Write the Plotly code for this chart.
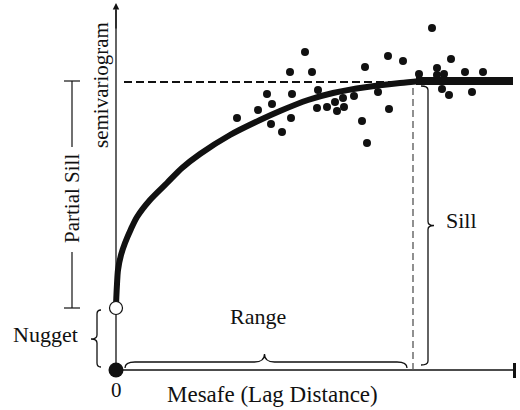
import plotly.graph_objects as go

# ---- data (lag distance units, semivariance units) ----
nugget = 62
sill = 289
range_lag = 297
x_axis_end = 399

curve_lag = [0, 0.3, 1, 2, 5, 9, 15, 21, 34, 51, 66, 84, 114, 144, 164, 192, 217, 251, 284, 304]
curve_gamma = [62, 72, 86, 100, 115, 127, 141, 153, 170, 187, 202, 216, 235, 250, 259, 270, 277, 283, 287, 289]

flat_lag = [300, 397]
flat_gamma = [289, 289]

obs_lag = [121, 142, 151, 156, 155, 166, 174, 176, 175, 189, 196, 202, 201, 211, 219, 221,
           227, 228, 238, 246, 249, 251, 262, 272, 273, 287, 303, 316, 321, 321, 328, 326,
           333, 335, 349, 356, 367]
obs_gamma = [252, 260, 276, 266, 246, 238, 298, 276, 252, 318, 298, 280, 262, 263, 268, 259,
             272, 263, 274, 249, 303, 227, 278, 314, 261, 309, 296, 342, 302, 295, 296, 281,
             275, 311, 298, 278, 298]

labels = {
    "y": "semivariogram",
    "x": "Mesafe (Lag Distance)",
    "zero": "0",
    "nugget": "Nugget",
    "psill": "Partial Sill",
    "sill": "Sill",
    "range": "Range",
}

FONT = "Liberation Serif, Times New Roman, serif"
INK = "#111111"

fig = go.Figure()

# x axis line
fig.add_trace(go.Scatter(x=[0, x_axis_end], y=[0, 0], mode="lines",
                         line=dict(color=INK, width=1.3), hoverinfo="skip"))
# y axis line
fig.add_trace(go.Scatter(x=[0, 0], y=[0, 360], mode="lines",
                         line=dict(color=INK, width=1.3), hoverinfo="skip"))

# sill dashed line
fig.add_trace(go.Scatter(x=[8, 300], y=[sill - 1, sill - 1], mode="lines",
                         line=dict(color=INK, width=2, dash="8px,4px"), hoverinfo="skip"))
# range dashed line
fig.add_trace(go.Scatter(x=[range_lag, range_lag], y=[0, sill - 5], mode="lines",
                         line=dict(color="#555555", width=1.3, dash="7px,4px"), hoverinfo="skip"))

# observations
fig.add_trace(go.Scatter(x=obs_lag, y=obs_gamma, mode="markers",
                         marker=dict(color=INK, size=8, line=dict(width=0)), hoverinfo="skip"))

# model curve
fig.add_trace(go.Scatter(x=curve_lag, y=curve_gamma, mode="lines",
                         line=dict(color=INK, width=6, shape="spline", smoothing=0.8),
                         hoverinfo="skip"))
fig.add_trace(go.Scatter(x=flat_lag, y=flat_gamma, mode="lines",
                         line=dict(color=INK, width=8), hoverinfo="skip"))

# nugget markers
fig.add_trace(go.Scatter(x=[0], y=[0], mode="markers",
                         marker=dict(color=INK, size=15), hoverinfo="skip"))
fig.add_trace(go.Scatter(x=[0], y=[nugget], mode="markers",
                         marker=dict(color="white", size=13, line=dict(color=INK, width=1.2)),
                         hoverinfo="skip"))

shapes = []

def vbrace(xb, y1, y2, ym, tip, hook):
    s = 1 if tip > 0 else -1
    r = 4
    return (f"M {xb - hook * s},{y2} Q {xb},{y2} {xb},{y2 - r} L {xb},{ym + r} "
            f"Q {xb},{ym} {xb + tip},{ym} Q {xb},{ym} {xb},{ym - r} L {xb},{y1 + r} "
            f"Q {xb},{y1} {xb - hook * s},{y1}")

def hbrace(yb, x1, x2, xm, tip, hook):
    r = 10
    return (f"M {x1},{yb - hook} Q {x1},{yb} {x1 + r},{yb} L {xm - r},{yb} "
            f"Q {xm},{yb} {xm},{yb + tip} Q {xm},{yb} {xm + r},{yb} L {x2 - r},{yb} "
            f"Q {x2},{yb} {x2},{yb - hook}")

# nugget brace (tip left)
shapes.append(dict(type="path", xref="x", yref="y",
                   path=vbrace(-19, 3, nugget - 2, nugget / 2, -6, 4),
                   line=dict(color=INK, width=1.3)))
# range brace (tip up)
shapes.append(dict(type="path", xref="x", yref="y",
                   path=hbrace(8, 9, range_lag - 6, range_lag / 2, 8, 6),
                   line=dict(color=INK, width=1.3)))
# sill brace (tip right)
shapes.append(dict(type="path", xref="x", yref="y",
                   path=vbrace(range_lag + 15, 5, sill - 5, sill / 2, 6, 7),
                   line=dict(color=INK, width=1.3)))
# partial sill line with caps
px = -44
for (a, b) in [(nugget, 118), (223, sill)]:
    shapes.append(dict(type="line", xref="x", yref="y", x0=px, x1=px, y0=a, y1=b,
                       line=dict(color=INK, width=1.2)))
for yy in [nugget, sill]:
    shapes.append(dict(type="line", xref="x", yref="y", x0=px - 8, x1=px + 8, y0=yy, y1=yy,
                       line=dict(color=INK, width=1.2)))
# x axis end bar
shapes.append(dict(type="rect", xref="x", yref="y", x0=x_axis_end - 2, x1=x_axis_end + 1,
                   y0=-8, y1=7, fillcolor=INK, line=dict(width=0)))

annotations = [
    # y axis arrow head
    dict(x=0, y=367, ax=0, ay=340, xref="x", yref="y", axref="x", ayref="y",
         showarrow=True, arrowhead=2, arrowsize=1, arrowwidth=1.3, arrowcolor=INK, text="",
         size=21),
    dict(x=-15, y=285, text=labels["y"], textangle=-90, showarrow=False, size=21),
    dict(x=px, y=171, text=labels["psill"], textangle=-90, showarrow=False, size=21),
    dict(x=-71, y=36, text=labels["nugget"], showarrow=False, size=22),
    dict(x=142, y=54, text=labels["range"], showarrow=False, size=22),
    dict(x=345, y=150, text=labels["sill"], showarrow=False, size=22),
    dict(x=0, y=-20, text=labels["zero"], showarrow=False, size=21),
    dict(x=156, y=-24, text=labels["x"], showarrow=False, size=23),
]
for a in annotations:
    a.setdefault("xanchor", "center")
    a.setdefault("yanchor", "middle")
    sz = a.pop("size")
    a["font"] = dict(family=FONT, size=sz, color=INK)

fig.update_layout(
    width=520, height=410,
    margin=dict(l=0, r=0, t=0, b=0),
    paper_bgcolor="white", plot_bgcolor="white",
    showlegend=False,
    xaxis=dict(range=[-116, 404], visible=False, fixedrange=True),
    yaxis=dict(range=[-40, 370], visible=False, fixedrange=True),
    shapes=shapes,
    annotations=annotations,
)

fig.write_html("out.html", config={"displayModeBar": False},
               post_script="document.body.style.margin='0';document.body.style.overflow='hidden';")
